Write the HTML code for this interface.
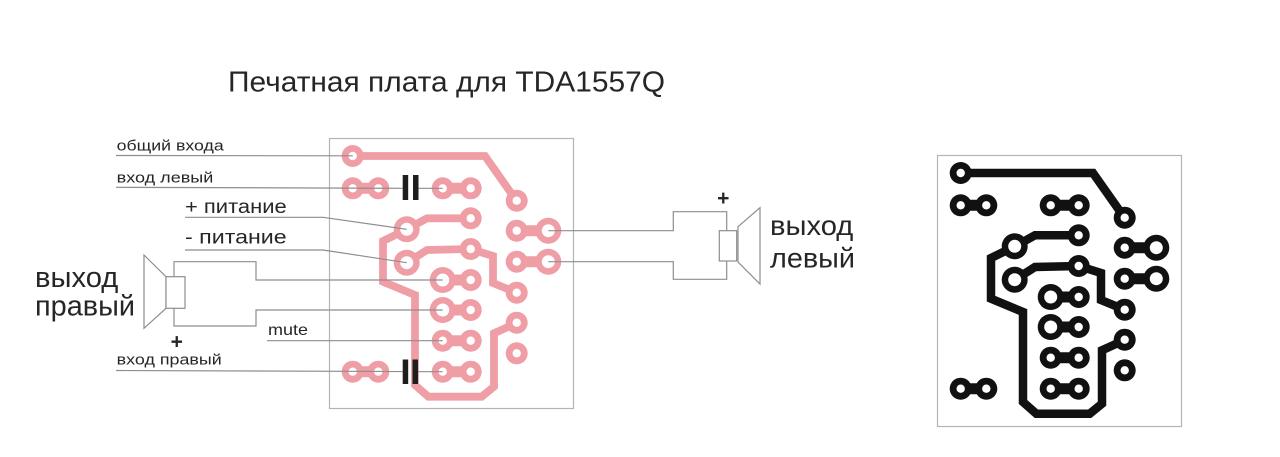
<!DOCTYPE html>
<html><head><meta charset="utf-8"><style>
html,body{margin:0;padding:0;background:#fff;}
svg{display:block;}
text{font-family:"Liberation Sans",Arial,sans-serif;fill:#262626;}
</style></head><body>
<svg width="1280" height="457" viewBox="0 0 1280 457" xmlns="http://www.w3.org/2000/svg">
<rect width="1280" height="457" fill="#fff"/>
<defs>
  <g id="board">
    <g fill="none" stroke-linejoin="miter" stroke-linecap="round">
      <polyline points="352.7,156 485,156 516.7,201"/>
      <polyline points="407,229.3 427,218.3 470.7,218.3"/>
      <polyline points="407,262.7 427,250 470.7,249 493,256 493,283 516.7,292.7"/>
      <polyline points="407,229.3 383,241 383,281.7 415,295 415,385 428.3,396.7 481.7,396.7 494,386.7 494,333.3 516.7,323"/>
    </g>
    <g fill="none" stroke-width="11" stroke-linecap="round">
      <line x1="352.7" y1="188.3" x2="378.3" y2="188.3"/>
      <line x1="442.7" y1="188.3" x2="470.7" y2="188.3"/>
      <line x1="516.7" y1="230.7" x2="548.3" y2="230.7"/>
      <line x1="516.7" y1="261.7" x2="548.3" y2="261.7"/>
      <line x1="442.7" y1="280" x2="470.7" y2="280"/>
      <line x1="442.7" y1="310" x2="470.7" y2="310"/>
      <line x1="442.7" y1="340.7" x2="470.7" y2="340.7"/>
      <line x1="442.7" y1="371.7" x2="470.7" y2="371.7"/>
      <line x1="352.7" y1="371.7" x2="378.3" y2="371.7"/>
    </g>
    <g stroke="none">
      <circle cx="352.7" cy="156" r="11"/>
      <circle cx="352.7" cy="188.3" r="11"/>
      <circle cx="378.3" cy="188.3" r="11"/>
      <circle cx="442.7" cy="188.3" r="11"/>
      <circle cx="470.7" cy="188.3" r="11"/>
      <circle cx="516.7" cy="200.7" r="11"/>
      <circle cx="470.7" cy="218.3" r="11"/>
      <circle cx="516.7" cy="230.7" r="11"/>
      <circle cx="470.7" cy="249" r="11"/>
      <circle cx="516.7" cy="261.7" r="11"/>
      <circle cx="470.7" cy="280" r="11"/>
      <circle cx="470.7" cy="310" r="11"/>
      <circle cx="516.7" cy="292.7" r="11"/>
      <circle cx="516.7" cy="322.7" r="11"/>
      <circle cx="442.7" cy="340.7" r="11"/>
      <circle cx="470.7" cy="340.7" r="11"/>
      <circle cx="516.7" cy="353.3" r="11"/>
      <circle cx="442.7" cy="371.7" r="11"/>
      <circle cx="470.7" cy="371.7" r="11"/>
      <circle cx="352.7" cy="371.7" r="11"/>
      <circle cx="378.3" cy="371.7" r="11"/>
      <circle cx="406.7" cy="229.3" r="13"/>
      <circle cx="406.7" cy="262.7" r="13"/>
      <circle cx="548.3" cy="230.7" r="13"/>
      <circle cx="548.3" cy="261.7" r="13"/>
      <circle cx="442.7" cy="280" r="13"/>
      <circle cx="442.7" cy="310" r="13"/>
    </g>
    <g fill="#fff" stroke="none">
      <circle cx="352.7" cy="156" r="4.2"/>
      <circle cx="352.7" cy="188.3" r="4.2"/>
      <circle cx="378.3" cy="188.3" r="4.2"/>
      <circle cx="442.7" cy="188.3" r="4.2"/>
      <circle cx="470.7" cy="188.3" r="4.2"/>
      <circle cx="516.7" cy="200.7" r="4.2"/>
      <circle cx="470.7" cy="218.3" r="4.2"/>
      <circle cx="516.7" cy="230.7" r="4.2"/>
      <circle cx="470.7" cy="249" r="4.2"/>
      <circle cx="516.7" cy="261.7" r="4.2"/>
      <circle cx="470.7" cy="280" r="4.2"/>
      <circle cx="470.7" cy="310" r="4.2"/>
      <circle cx="516.7" cy="292.7" r="4.2"/>
      <circle cx="516.7" cy="322.7" r="4.2"/>
      <circle cx="442.7" cy="340.7" r="4.2"/>
      <circle cx="470.7" cy="340.7" r="4.2"/>
      <circle cx="516.7" cy="353.3" r="4.2"/>
      <circle cx="442.7" cy="371.7" r="4.2"/>
      <circle cx="470.7" cy="371.7" r="4.2"/>
      <circle cx="352.7" cy="371.7" r="4.2"/>
      <circle cx="378.3" cy="371.7" r="4.2"/>
      <circle cx="406.7" cy="229.3" r="6.5"/>
      <circle cx="406.7" cy="262.7" r="6.5"/>
      <circle cx="548.3" cy="230.7" r="6.5"/>
      <circle cx="548.3" cy="261.7" r="6.5"/>
      <circle cx="442.7" cy="280" r="6.5"/>
      <circle cx="442.7" cy="310" r="6.5"/>
    </g>
  </g>
</defs>

<!-- Title -->
<text x="228" y="91.5" font-size="29" textLength="437" lengthAdjust="spacingAndGlyphs">Печатная плата для TDA1557Q</text>

<!-- Red board -->
<rect x="329.5" y="138.5" width="244" height="270" fill="none" stroke="#b4b4b4" stroke-width="1.2"/>
<g fill="#ef9ea6" stroke="#ef9ea6" stroke-width="7.8">
  <use href="#board"/>
</g>
<!-- capacitors -->
<g fill="#1e1e1e">
  <rect x="402.7" y="175" width="5.5" height="25"/>
  <rect x="413" y="175" width="5.5" height="25"/>
  <rect x="402.7" y="359.5" width="5.5" height="24.5"/>
  <rect x="412.5" y="359.5" width="5.5" height="24.5"/>
</g>

<!-- wires -->
<g fill="none" stroke="#8e8e8e" stroke-width="1.2">
  <polyline points="116,155.5 352.7,155.8"/>
  <polyline points="116,187.3 402.7,188.3"/>
  <polyline points="418.5,188.3 442.7,188.3"/>
  <polyline points="185,217.3 323,217.3 406.7,229.3"/>
  <polyline points="185,250 323,250 406.7,262.7"/>
  <polyline points="174,276.7 174,261.7 256,261.7 256,280 442.7,280"/>
  <polyline points="174,308.3 174,326 256,326 256,310 442.7,310"/>
  <polyline points="267,340.7 442.7,340.7"/>
  <polyline points="116,370.5 402.7,371.5"/>
  <polyline points="418,371.7 442.7,371.7"/>
  <polyline points="548.3,230.7 673.3,230.7 673.3,211.7 726.7,211.7 726.7,230.7"/>
  <polyline points="548.3,261.7 673.3,261.7 673.3,279.3 726.7,279.3 726.7,261"/>
  <!-- left speaker -->
  <polygon points="144,255 166,276.7 166,308.3 144,328.3"/>
  <rect x="166" y="276.7" width="19" height="31.6" fill="#fff"/>
  <!-- right speaker -->
  <polygon points="738,226.7 760,207.7 760,284 738,262"/>
  <rect x="719.3" y="230.7" width="17.4" height="30.3" fill="#fff"/>
</g>

<!-- labels -->
<text x="116.7" y="150.5" font-size="15" textLength="107" lengthAdjust="spacingAndGlyphs">общий входа</text>
<text x="116.7" y="182.5" font-size="15" textLength="96.6" lengthAdjust="spacingAndGlyphs">вход левый</text>
<text x="185" y="213" font-size="19" textLength="101.7" lengthAdjust="spacingAndGlyphs">+ питание</text>
<text x="185" y="243.5" font-size="19" textLength="101.7" lengthAdjust="spacingAndGlyphs">- питание</text>
<text x="35" y="287" font-size="29" textLength="83.3" lengthAdjust="spacingAndGlyphs">выход</text>
<text x="35" y="315.5" font-size="29" textLength="100" lengthAdjust="spacingAndGlyphs">правый</text>
<text x="268" y="335" font-size="16" textLength="40" lengthAdjust="spacingAndGlyphs">mute</text>
<text x="116.7" y="364.5" font-size="15" textLength="105" lengthAdjust="spacingAndGlyphs">вход правый</text>
<text x="176.7" y="348.5" font-size="21" text-anchor="middle" font-weight="bold">+</text>
<text x="723.3" y="205" font-size="21" text-anchor="middle" font-weight="bold">+</text>
<text x="770" y="235" font-size="28" textLength="83.3" lengthAdjust="spacingAndGlyphs">выход</text>
<text x="770" y="267.3" font-size="28" textLength="85" lengthAdjust="spacingAndGlyphs">левый</text>

<!-- Black board -->
<rect x="937.5" y="155.5" width="244" height="271" fill="none" stroke="#b4b4b4" stroke-width="1.2"/>
<g transform="translate(608,17)" fill="#111" stroke="#111" stroke-width="8.5">
  <use href="#board"/>
</g>
</svg>
</body></html>
